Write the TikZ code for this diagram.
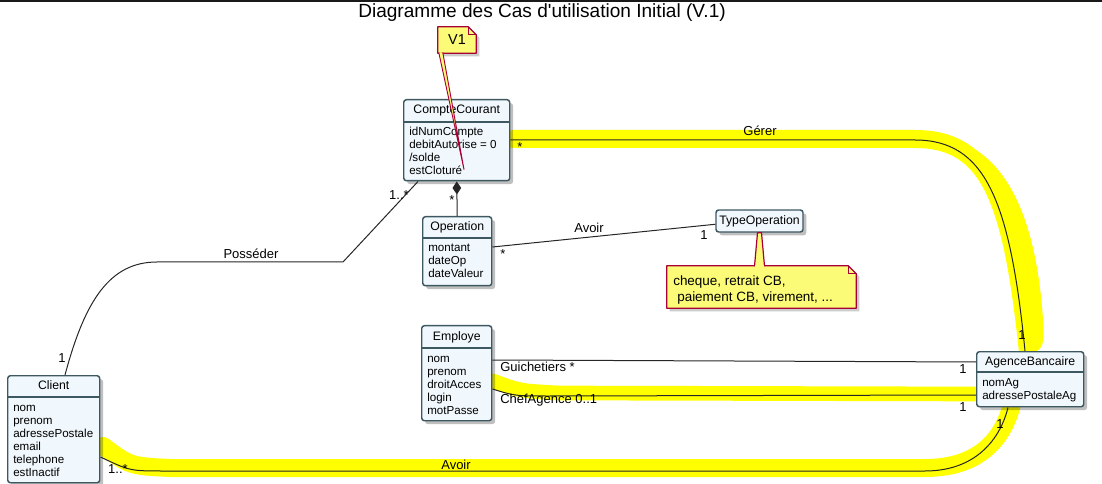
\documentclass[tikz,border=0pt]{standalone}
\usepackage{fontspec}
\setmainfont{Liberation Sans}
\usetikzlibrary{calc,arrows.meta,shadows}
\definecolor{clsfill}{RGB}{241,248,253}
\definecolor{clsdraw}{RGB}{62,88,98}
\definecolor{notefill}{RGB}{251,251,119}
\definecolor{notered}{RGB}{168,0,54}
\definecolor{hlyellow}{RGB}{255,255,0}
\tikzset{
  cls/.style={draw=clsdraw, fill=clsfill, line width=1.1pt, rounded corners=2pt, inner sep=0pt,
    drop shadow={shadow xshift=2.5pt, shadow yshift=-2.5pt, opacity=0.25, fill=black}},
  clssep/.style={draw=clsdraw, line width=0.9pt},
  clstitle/.style={font=\fontsize{9.2}{11}\selectfont, inner sep=0pt, anchor=base},
  attr/.style={font=\fontsize{8.7}{9.75}\selectfont, inner sep=0pt, anchor=base west},
  assoc/.style={draw=black!85, line width=0.75pt},
  lbl/.style={font=\fontsize{9.75}{11}\selectfont, inner sep=0pt},
  hlstroke/.style={draw=hlyellow, line cap=round, line join=round},
  note/.style={draw=notered, fill=notefill, line width=0.9pt, line join=round},
  notetext/.style={font=\fontsize{10.1}{12}\selectfont, inner sep=0pt, anchor=base west},
  titlef/.style={font=\fontsize{14.3}{16}\selectfont, inner sep=0pt},
}
\newcommand{\umlclass}[8]{%
  \node[cls, minimum width=#4*0.75pt, minimum height=#5*0.75pt, anchor=north west] (#1) at (#2,#3) {};
  \draw[clssep] ($(#1.north west)+(0,#6)$) -- ($(#1.north east)+(0,#6)$);
  \node[clstitle] at ($(#1.north)+(0,#6/2+3.5)$) {#7};
  \foreach \a [count=\i] in {#8} {
    \node[attr] at ($(#1.north west)+(6,#6+14+13*\i-13)$) {\a};
  }
}
\begin{document}
\begin{tikzpicture}[x=0.75pt,y=-0.75pt]
\useasboundingbox (0,0) rectangle (1102,484);
\fill[black!90] (0,0) rectangle (1102,2.5);
\node[titlef] (title) at (542,13) {Diagramme des Cas d\textquotesingle utilisation Initial (V.1)};

% yellow highlights (hand-drawn marker)
\draw[hlstroke, line width=13.5pt] (513,139) -- (915,139) .. controls (990,139) and (1012,200) .. (1028,352);
\draw[hlstroke, line width=9pt] (935,142) .. controls (998,148) and (1030,215) .. (1037,320) .. controls (1040,350) and (1032,352) .. (1029,332);
\draw[hlstroke, line width=11pt] (493,381) .. controls (520,391) .. (560,393) -- (976,394);
\draw[hlstroke, line width=13.5pt] (103,446) .. controls (130,466) .. (170,468) -- (925,468) .. controls (978,468) and (1003,440) .. (1012,404);

% classes
\umlclass{cc}{403}{99}{106}{81}{23}{CompteCourant}{idNumCompte,debitAutorise = 0,/solde,estCloturé}
\umlclass{op}{422}{216}{69}{69}{22}{Operation}{montant,dateOp,dateValeur}
\umlclass{cl}{7}{375}{92}{107}{22}{Client}{nom,prenom,adressePostale,email,telephone,estInactif}
\umlclass{em}{421}{325}{70}{95}{23}{Employe}{nom,prenom,droitAcces,login,motPasse}
\umlclass{ab}{976}{351}{107}{55}{21}{AgenceBancaire}{nomAg,adressePostaleAg}
\node[cls, minimum width=65.25pt, minimum height=16.5pt, font=\fontsize{9.2}{11}\selectfont] (to) at (759.5,221) {TypeOperation};

% associations
\draw[assoc] ($(cl.north west)+(58,0)$) .. controls (85,300) and (110,262) .. (157,262) -- (343,262) -- ($(cc.south west)+(15,0)$);
\node[lbl] at (251,254) {Posséder};
\node[lbl] at (62,358) {1};
\node[lbl] at (399,195) {1..*};

\draw[assoc, -{Diamond[length=9.75pt,width=6.5pt]}] (op.north) -- (cc.south);
\node[lbl] at (452,200) {*};

\draw[assoc] ($(op.north east)+(0,31)$) -- ($(to.north west)+(0,15)$);
\node[lbl] at (589,228) {Avoir};
\node[lbl] at (503,254) {*};
\node[lbl] at (704,235) {1};

\draw[assoc] ($(cc.north east)+(0,41)$) -- (915,140) .. controls (985,140) and (1010,200) .. ($(ab.north west)+(49,0)$);
\node[lbl] at (760,131) {Gérer};
\node[lbl] at (520,147) {*};
\node[lbl] at (1022,335) {1};

\draw[assoc] ($(em.north east)+(0,35)$) -- ($(ab.north west)+(0,11)$);
\node[lbl, anchor=west] at (500,367) {Guichetiers *};
\node[lbl] at (963,369) {1};

\draw[assoc] ($(em.north east)+(0,64)$) .. controls (515,396) .. (550,396) -- ($(ab.north west)+(0,44)$);
\node[lbl, anchor=west] at (500,400) {ChefAgence 0..1};
\node[lbl] at (963,407) {1};

\draw[assoc] ($(cl.north east)+(0,82)$) .. controls (130,471) .. (165,471) -- (925,471) .. controls (975,471) and (1000,440) .. ($(ab.south west)+(32,0)$);
\node[lbl] at (456,465) {Avoir};
\node[lbl] at (118,469) {1..*};
\node[lbl] at (1000,424) {1};

% note V1
\node[minimum width=28.5pt, minimum height=19.5pt, inner sep=0pt] (n1) at (457,40) {};
\fill[black, opacity=0.2] ($(n1.north west)+(3,3)$) -- ($(n1.north east)+(-5,3)$) -- ($(n1.north east)+(3,11)$) -- ($(n1.south east)+(3,3)$) -- ($(n1.south west)+(3,3)$) -- cycle;
\draw[note] (n1.north west) -- ($(n1.north east)+(-8,0)$) -- ($(n1.north east)+(0,8)$) -- (n1.south east) -- (n1.south west) -- cycle;
\draw[note, fill=none] ($(n1.north east)+(-8,0)$) -- ($(n1.north east)+(-8,8)$) -- ($(n1.north east)+(0,8)$);
\node[font=\fontsize{10.8}{12}\selectfont, inner sep=0pt] at (n1.center) {V1};
\draw[note, line width=0.7pt] ($(n1.south west)+(1,-1)$) -- ($(cc.south west)+(61,-12)$) -- ($(n1.south west)+(5,-1)$);

% note on TypeOperation
\node[minimum width=141.75pt, minimum height=31.5pt, inner sep=0pt] (n2) at (761.5,287) {};
\fill[black, opacity=0.2] ($(n2.north west)+(3,3)$) -- ($(n2.north east)+(-5,3)$) -- ($(n2.north east)+(3,11)$) -- ($(n2.south east)+(3,3)$) -- ($(n2.south west)+(3,3)$) -- cycle;
\draw[note] (n2.north west) -- ($(n2.north east)+(-8,0)$) -- ($(n2.north east)+(0,8)$) -- (n2.south east) -- (n2.south west) -- cycle;
\draw[note, fill=none] ($(n2.north east)+(-8,0)$) -- ($(n2.north east)+(-8,8)$) -- ($(n2.north east)+(0,8)$);
\draw[note] ($(n2.north)+(-7,0.5)$) -- ($(to.south)+(-2,0)$) -- ($(to.south)+(2,0)$) -- ($(n2.north)+(3,0.5)$);
\fill[notefill] ($(n2.north)+(-6.3,1.2)$) rectangle ($(n2.north)+(2.3,-1)$);
\node[notetext] at (673,286) {cheque, retrait CB,};
\node[notetext] at (677,301) {paiement CB, virement, ...};
\end{tikzpicture}
\end{document}
